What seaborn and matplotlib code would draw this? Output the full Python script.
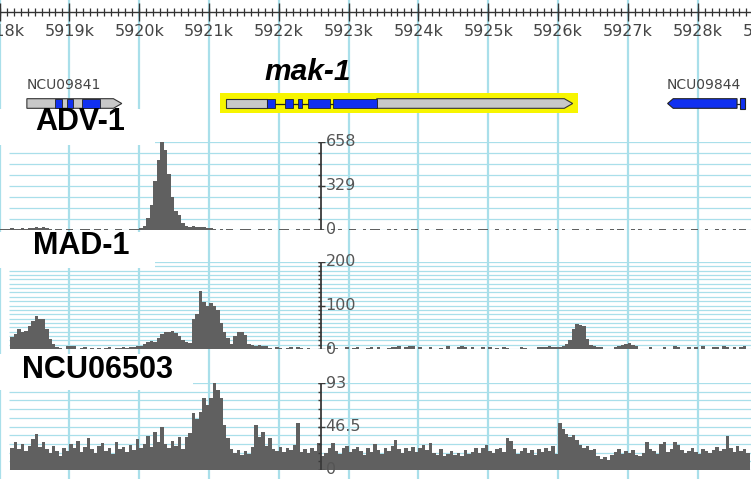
import numpy as np
import pandas as pd
import seaborn as sns
from matplotlib import pyplot as plt
from matplotlib.patches import Rectangle, Polygon

# genomic window (bp) and coverage bins
X0, X1 = 5918005, 5928765
BIN_START, BIN_SIZE = 5918000, 50

adv1 = [8, 11, 9, 14, 11, 9, 12, 11, 14, 16,
        22, 18, 20, 14, 9,
        0, 9, 11, 0, 7, 9, 0, 0, 11, 9, 7, 0, 9, 11, 0, 7, 0, 0, 9, 11, 0, 0, 7, 9, 11, 14, 30,
        90, 190, 370, 520, 658, 600, 420, 245, 140, 115, 55, 30, 25, 28, 22, 25, 20, 15, 12,
        9, 0, 7, 0, 11, 9, 0, 0, 7, 9, 9, 0, 0, 11, 7, 0, 9, 0, 0, 7, 9, 11, 0, 0, 7, 0, 9, 9, 0, 7, 11,
        9, 0, 0, 7, 0, 9, 0, 0, 11, 7,
        0, 0, 9, 0, 7, 9, 11, 0, 0, 9,
        0, 7, 0, 0, 9, 0, 11, 7, 0, 0,
        9, 0, 0, 7, 9, 0, 0, 0, 11, 0,
        7, 0, 9, 0, 0, 7, 11, 9, 0, 0,
        9, 0, 0, 11, 0, 7, 0, 0, 9, 0,
        0, 7, 9, 0, 0, 9, 0, 11, 0, 7,
        0, 0, 9, 7, 0, 0, 11, 0, 0, 9,
        7, 0, 0, 9, 0, 11, 9, 0, 0, 7,
        0, 9, 0, 0, 7, 0, 0, 9, 11, 0,
        0, 7, 0, 9, 0, 0, 9, 7, 0, 0,
        11, 0, 0, 9, 0, 7, 0, 0, 9, 0,
        7, 9, 0]

mad1 = [0, 0, 0, 27, 35, 46, 40, 42, 52, 65,
        75, 70, 68, 45, 22, 12, 4, 3,
        0, 6, 8, 7, 0, 3, 5, 0, 2, 0,
        2, 0, 3, 4, 0, 3, 2, 4, 3, 5, 4, 6, 8,
        12, 15, 18, 16,
        25, 35, 40, 38, 42, 36, 30, 20,
        16, 14,
        70, 80, 134, 108, 100, 105, 100, 90, 60, 40, 25, 12, 30, 38, 40, 32, 12,
        9, 8, 10, 6, 7,
        3, 0, 4, 2, 0, 3, 5, 0, 4, 3, 0, 2, 0, 0, 0,
        0, 0, 8, 0, 3, 0, 0, 4, 0, 3,
        4, 0, 0, 3, 5, 0, 4, 0, 0, 3,
        5, 4, 6, 0, 5, 7, 6, 0, 4, 0,
        0, 5, 0, 0, 3, 0, 6, 0, 0, 4,
        7, 5, 0, 4, 0, 0, 5, 0, 4, 0,
        3, 0, 4, 3, 0, 0, 0, 4, 3, 0,
        0, 0, 4, 5, 4, 6, 5, 4, 5, 8,
        12, 20, 46, 58, 55, 53, 23, 10, 8, 5,
        4, 0, 0, 0, 4, 8, 10, 12, 14, 10,
        6, 0, 0, 0, 4, 0, 0, 0, 5, 0,
        0, 6, 4, 0, 0, 5, 0, 4, 0, 6,
        0, 0, 5, 4, 0, 6, 5, 0, 4, 0,
        5, 6, 0]

ncu06503 = [0, 0, 0,
            24, 30, 22, 28, 20, 26, 33, 38, 25, 30,
            22, 18, 26, 20, 15, 24, 20, 28, 23, 31,
            19, 25, 34, 22, 18, 26, 29, 20, 24, 17,
            30, 22, 25, 19, 27, 21, 33, 24, 28, 36,
            25, 41, 30, 46, 28, 24, 31, 26, 35, 22,
            35, 40, 61, 55, 62, 77, 70, 77, 93, 86,
            77, 48, 34, 22, 18, 21, 16, 20, 17, 25,
            48, 35, 41, 26, 34, 22, 20, 25, 19, 23,
            21, 27, 50, 19, 22, 18, 24, 20, 29, 15,
            18, 24, 29, 20, 17, 23, 26, 19, 22, 25,
            20, 16, 24, 19, 28, 21, 17, 23, 20, 26,
            32, 22, 18, 24, 20, 25, 19, 23, 27, 21,
            29, 18, 16, 22, 15, 17, 20, 16, 18, 15,
            21, 17, 19, 24, 18, 23, 27, 20, 18, 22,
            24, 19, 34, 31, 22, 17, 20, 24, 18, 21,
            16, 22, 19, 24, 20, 26, 17, 50, 44, 39,
            35, 37, 32, 27, 24, 26, 21, 22, 15, 12,
            14, 11, 16, 19, 22, 17, 20, 18, 21, 16,
            15, 18, 30, 22, 20, 17, 28, 30, 19, 22,
            30, 27, 21, 18, 20, 23, 19, 17, 22, 20,
            18, 21, 25, 20, 22, 36, 24, 19, 26, 20,
            22, 18]

track_names = ['ADV-1', 'MAD-1', 'NCU06503']
track_max = [658, 200, 93]
track_ticks = [8, 20, 10]
track_labels = [['0', '329', '658'], ['0', '100', '200'], ['0', '46.5', '93']]

# gene models: (start, end) in bp
genes = ['NCU09841', 'mak-1', 'NCU09844']
gene_span = [(5918390, 5919750), (5921240, 5926210), (5927570, 5928565)]
gene_strand = [1, 1, -1]
gene_exons = [[(5918790, 5918890), (5918960, 5919050), (5919175, 5919435)],
              [(5921826, 5921940), (5922083, 5922198), (5922269, 5922327),
               (5922413, 5922728), (5922771, 5923402)],
              [(5927570, 5928565), (5928605, 5928677)]]
intron_lines = [False, True, False]
highlight = (5921153, 5926283)

sns.set_style('white')
plt.rcParams['font.family'] = ['DejaVu Sans']

W, H = 751, 479
CYAN = '#a9dfea'
COV = '#606060'
BLUE = '#1030f0'
AXIS_X = 5922610

fig = plt.figure(figsize=(W / 100, H / 100), dpi=100)
fig.patch.set_facecolor('white')


def px_axes(top, bottom):
    ax = fig.add_axes([0, 1 - bottom / H, 1, (bottom - top) / H])
    ax.set_xlim(X0, X1)
    ax.axis('off')
    ax.patch.set_visible(False)
    return ax


# background: ruler, vertical grid, genes (y in pixels)
bg = px_axes(0, H)
bg.set_ylim(H, 0)
kb = np.arange(5918000, 5930000, 1000)
bg.vlines(kb, 0, H, color=CYAN, lw=1.6, zorder=0)
bg.hlines(12, X0, X1, color='#333333', lw=1)
bg.vlines(np.arange(5918000, 5929000, 100), 8, 16, color='#333333', lw=0.9)
bg.vlines(kb, 3, 21, color='#333333', lw=1)
for k in kb:
    bg.text(k, 31, f'{k // 1000}k', ha='center', va='center', fontsize=11.5, color='#444444')

bg.add_patch(Rectangle((highlight[0], 93), highlight[1] - highlight[0], 19.5,
                       facecolor='#f7f500', edgecolor='none', zorder=1))
ymid, hh = 103.5, 4.8
for name, (s, e), strand, exons, lines in zip(genes, gene_span, gene_strand, gene_exons, intron_lines):
    tip = 120 if strand > 0 else 80
    if strand > 0:
        if lines:
            a0, b0 = exons[0][0], exons[-1][1]
            bg.add_patch(Rectangle((s, ymid - hh), a0 - s, 2 * hh, facecolor='#c8c8c8',
                                   edgecolor='#333333', lw=0.8, zorder=2))
            body = [(b0, ymid - hh), (e - tip, ymid - hh), (e, ymid), (e - tip, ymid + hh), (b0, ymid + hh)]
            for (a, b), (c, d) in zip(exons[:-1], exons[1:]):
                bg.plot([b, c], [ymid, ymid], color='#222222', lw=0.9, zorder=2)
        else:
            body = [(s, ymid - hh), (e - tip, ymid - hh), (e, ymid), (e - tip, ymid + hh), (s, ymid + hh)]
        bg.add_patch(Polygon(body, closed=True, facecolor='#c8c8c8', edgecolor='#333333', lw=0.8, zorder=2))
        for a, b in exons:
            bg.add_patch(Rectangle((a, ymid - hh), b - a, 2 * hh, facecolor=BLUE,
                                   edgecolor='#222222', lw=0.6, zorder=3))
    else:
        (a, b), (c, d) = exons
        body = [(a, ymid), (a + tip, ymid - hh), (b, ymid - hh), (b, ymid + hh), (a + tip, ymid + hh)]
        bg.add_patch(Polygon(body, closed=True, facecolor=BLUE, edgecolor='#222222', lw=0.8, zorder=2))
        bg.plot([b, c], [ymid, ymid], color='#222222', lw=0.9, zorder=2)
        bg.add_patch(Rectangle((c, ymid - hh - 1), d - c, 2 * hh + 2, facecolor=BLUE,
                               edgecolor='#222222', lw=0.8, zorder=2))

bg.text(gene_span[0][0], 85, genes[0], ha='left', va='center', fontsize=10, color='#444444')
bg.text(5927556, 85, genes[2], ha='left', va='center', fontsize=10, color='#444444')
bg.text(5922420, 72, genes[1], ha='center', va='center', fontsize=21.5, fontweight='bold',
        fontstyle='italic', family='Liberation Sans', color='black')

# coverage tracks
track_px = [(142, 230), (262, 349), (383, 470)]
edges = BIN_START + BIN_SIZE * np.arange(len(adv1) + 1)
for vals, ymax, nt, labs, (top, bot) in zip([adv1, mad1, ncu06503], track_max, track_ticks,
                                            track_labels, track_px):
    ax = px_axes(top, bot)
    df = pd.DataFrame({'pos': edges[:-1], 'cov': vals})
    levels = np.linspace(0, ymax, nt + 1)
    ax.hlines(levels, 5918130, X1, color=CYAN, lw=0.9, zorder=0)
    ax.stairs(df['cov'], edges, fill=True, color=COV, lw=0, zorder=2)
    ax.set_xlim(X0, X1)
    ax.set_ylim(0, ymax)
    ax.axis('off')
    ax.vlines(AXIS_X, 0, ymax, color='#3a3a3a', lw=1.3, zorder=4)
    ax.hlines(levels, AXIS_X - 45, AXIS_X, color='#3a3a3a', lw=1, zorder=4)
    ax.hlines([0, ymax / 2, ymax], AXIS_X - 45, AXIS_X + 45, color='#3a3a3a', lw=1, zorder=4)
    for lv, lb in zip([0, ymax / 2, ymax], labs):
        ax.text(AXIS_X + 60, lv, lb, ha='left', va='center', fontsize=11.5, color='#555555',
                zorder=5, clip_on=False)

# track name labels on white boxes
boxes = [(0, 109, 155, 36), (0, 232, 155, 36), (0, 354, 193, 36)]
label_pos = [(35, 122), (33, 246), (22, 370)]
for name, (bx, by, bw, bh), (lx, ly) in zip(track_names, boxes, label_pos):
    fig.add_artist(Rectangle((bx / W, 1 - (by + bh) / H), bw / W, bh / H, transform=fig.transFigure,
                             facecolor='white', edgecolor='none', zorder=5))
    fig.text(lx / W, 1 - ly / H, name, ha='left', va='center', fontsize=22, fontweight='bold',
             family='Liberation Sans', color='black', zorder=6)

fig.savefig('out.png', dpi=100)
